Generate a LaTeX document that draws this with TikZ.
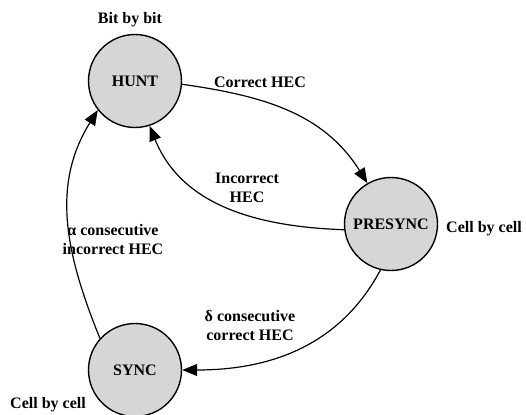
\documentclass[tikz,border=0pt]{standalone}
\usepackage{fontspec}
\setmainfont{Liberation Serif}
\usetikzlibrary{arrows.meta}
\begin{document}
\begin{tikzpicture}[x=1bp,y=1bp,
  state/.style={circle,draw,line width=1.4bp,fill=black!16,minimum size=93bp,inner sep=0pt,font=\fontsize{16bp}{18bp}\bfseries\selectfont},
  lab/.style={font=\fontsize{16bp}{19bp}\bfseries\selectfont,align=center,inner sep=0pt},
  trans/.style={line width=1.2bp,-{Triangle[length=15bp,width=12bp]}}]
\useasboundingbox (0,0) rectangle (526,414);
\node[state] (hunt) at (135,333) {HUNT};
\node[state] (pre) at (391,190) {PRESYNC};
\node[state] (sync) at (135,44) {SYNC};
\node[lab] (lbit) at (130,394) {Bit by bit};
\node[lab] (lcor) at (260,332) {Correct HEC};
\node[lab] (linc) at (247,226) {Incorrect\\HEC};
\node[lab] (lcell1) at (484,185) {Cell by cell};
\node[lab] (lalpha) at (113,174) {α consecutive\\incorrect HEC};
\node[lab] (ldelta) at (250,89) {δ consecutive\\correct HEC};
\node[lab] (lcell2) at (48,9) {Cell by cell};
\draw[trans] (hunt.-4) to[out=-8,in=122] (pre.120);
\draw[trans] (pre.187) to[out=178,in=-68] (hunt.-72);
\draw[trans] (sync.138) to[out=112,in=238] (hunt.218);
\draw[trans] (pre.-103) to[out=-118,in=0] (sync.0);
\end{tikzpicture}
\end{document}
